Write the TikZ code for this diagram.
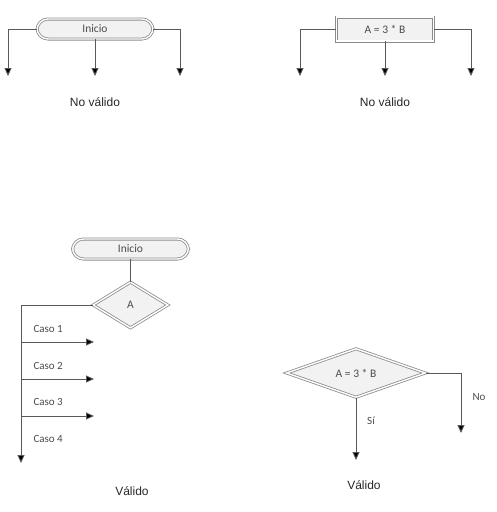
\documentclass[tikz,border=0pt]{standalone}
\usepackage{fontspec}
\setmainfont{Liberation Sans}
\newfontfamily\shapefont{Carlito}
\usetikzlibrary{arrows.meta, shapes.geometric}

\begin{document}
\begin{tikzpicture}[x=1pt, y=-1pt,
    line/.style={draw=black!65, line width=0.9pt},
    arr/.style={line, -{Triangle[length=8pt, width=7pt, fill=black]}},
    dbl/.style={draw=black!45, line width=0.8pt, double=white, double distance=1.4pt, fill=black!5,
        text=black!70, font=\shapefont\fontsize{11.5}{13}\selectfont, inner sep=0pt},
    term/.style={dbl, rounded corners=11pt, minimum width=116pt, minimum height=20pt},
    proc/.style={dbl, minimum width=97pt, minimum height=24pt},
    cond/.style={dbl, diamond},
    note/.style={font=\fontsize{12}{14}\selectfont, text=black!85},
    tag/.style={font=\shapefont\fontsize{11}{13}\selectfont, text=black!70}]
    \useasboundingbox (0,0) rectangle (496,512);

    % inicio con tres salidas
    \node[term] (ini1) at (95,29) {Inicio};
    \coordinate (i1a) at (8,76);
    \coordinate (i1b) at (95,76);
    \coordinate (i1c) at (180,76);
    \draw[arr] (ini1.west) -| (i1a);
    \draw[arr] (ini1.south) -- (i1b);
    \draw[arr] (ini1.east) -| (i1c);
    \node[note] (nv1) at (95,102) {No válido};

    % proceso con tres salidas
    \node[proc] (asig) at (385,29) {A = 3 * B};
    \coordinate (asa) at (300,76);
    \coordinate (asb) at (385,76);
    \coordinate (asc) at (471,76);
    \draw[arr] (asig.west) -| (asa);
    \draw[arr] (asig.south) -- (asb);
    \draw[arr] (asig.east) -| (asc);
    \node[note] (nv2) at (385,102) {No válido};

    % inicio y seleccion multiple
    \node[term] (ini2) at (130.5,249) {Inicio};
    \node[cond, minimum width=75pt, minimum height=46pt] (selA) at (130.5,305) {A};
    \draw[line] (ini2.south) -- (selA.north);
    \coordinate (sw) at (21,305);
    \coordinate (sfin) at (21,463);
    \draw[arr] (selA.west) -- (sw) -- (sfin);
    \foreach \y/\n in {342/1, 379/2, 416/3} {
        \coordinate (c\n) at (21,\y);
        \coordinate (e\n) at (94,\y);
        \draw[arr] (c\n) -- (e\n);
    }
    \foreach \y/\n in {329/1, 366/2, 402/3, 439/4}
        \node[tag, anchor=west] (caso\n) at (30,\y) {Caso \n};
    \node[note] (val1) at (132,491) {Válido};

    % decision si/no
    \node[cond, minimum width=139pt, minimum height=48pt] (cmp) at (356,373) {A = 3 * B};
    \coordinate (si) at (356,460);
    \coordinate (nr) at (461,373);
    \coordinate (no) at (461,433);
    \draw[arr] (cmp.south) -- (si);
    \draw[arr] (cmp.east) -- (nr) -- (no);
    \node[tag] (lsi) at (371,421) {Sí};
    \node[tag] (lno) at (479,397) {No};
    \node[note] (val2) at (364,485) {Válido};
\end{tikzpicture}
\end{document}
